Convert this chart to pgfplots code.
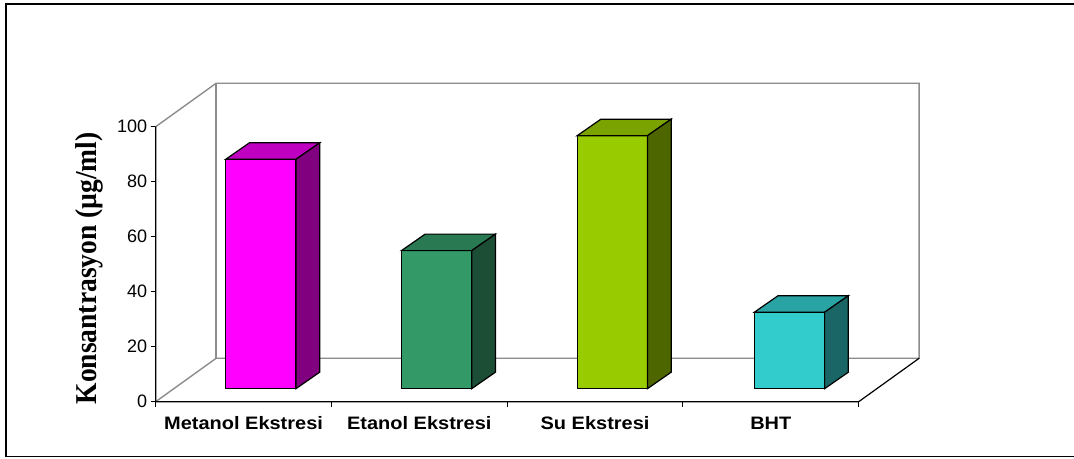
\documentclass[border=0pt]{standalone}
\usepackage{pgfplots}
\pgfplotsset{compat=1.18}
\usepackage{graphicx}
\usepackage{fontspec}
\setmainfont{Liberation Sans}
\newfontfamily\timesfont{Liberation Serif}

\definecolor{mF}{HTML}{FF00FF}\definecolor{mT}{HTML}{C000C0}\definecolor{mS}{HTML}{800080}
\definecolor{eF}{HTML}{339966}\definecolor{eT}{HTML}{297A52}\definecolor{eS}{HTML}{1C4D35}
\definecolor{sF}{HTML}{99CC00}\definecolor{sT}{HTML}{7AA300}\definecolor{sS}{HTML}{4D6600}
\definecolor{bF}{HTML}{33CCCC}\definecolor{bT}{HTML}{29A3A3}\definecolor{bS}{HTML}{1A6666}
\definecolor{wallgray}{HTML}{8C8C8C}

\begin{document}
\begin{tikzpicture}
\begin{axis}[
  at={(155.7pt,56.3pt)}, anchor=south west,
  scale only axis, width=703pt, height=275pt,
  xmin=0, xmax=4, ymin=0, ymax=100,
  clip=false,
  axis line style={draw=none},
  tick pos=left,
  tick align=outside,
  major tick length=5pt,
  minor tick length=5pt,
  every tick/.style={black, line width=1pt},
  xtick={0.5,1.5,2.5,3.5},
  xticklabels={\scalebox{1.11}[1]{\bfseries Metanol Ekstresi}, \scalebox{1.11}[1]{\bfseries Etanol Ekstresi}, \scalebox{1.11}[1]{\bfseries Su Ekstresi}, \scalebox{1.11}[1]{\bfseries BHT}},
  major x tick style={draw=none},
  minor xtick={0,1,2,3,4},
  xticklabel style={font=\fontsize{18}{20}\selectfont, yshift=-6.5pt},
  ytick={0,20,40,60,80,100},
  yticklabel style={font=\fontsize{18}{20}\selectfont},
  /pgf/number format/assume math mode=true,
  ylabel={\scalebox{1}[1.1]{Konsantrasyon (µg/ml)}},
  every axis y label/.style={at={(axis cs:-0.38,48.5)}, rotate=90, anchor=center, font=\timesfont\bfseries\fontsize{27.5}{30}\selectfont},
]
% back wall and floor (grey)
\addplot[wallgray, line width=1.4pt] coordinates {(0,100) (0.344,115.8) (4.344,115.8) (4.344,15.8) (0.344,15.8) (0,0)};
\addplot[wallgray, line width=1.4pt] coordinates {(0.344,15.8) (0.344,115.8)};
% front axes (black)
\addplot[black, line width=1.2pt] coordinates {(0,100) (0,0) (4,0) (4.344,15.8)};

% Metanol Ekstresi: 83.4
\addplot[fill=mF, draw=black, line width=1.2pt] coordinates {(0.398,4.73) (0.798,4.73) (0.798,88.13) (0.398,88.13)} -- cycle;
\addplot[fill=mT, draw=black, line width=1.2pt] coordinates {(0.398,88.13) (0.798,88.13) (0.933,94.13) (0.533,94.13)} -- cycle;
\addplot[fill=mS, draw=black, line width=1.2pt] coordinates {(0.798,4.73) (0.933,10.73) (0.933,94.13) (0.798,88.13)} -- cycle;
% Etanol Ekstresi: 50.2
\addplot[fill=eF, draw=black, line width=1.2pt] coordinates {(1.398,4.73) (1.798,4.73) (1.798,54.93) (1.398,54.93)} -- cycle;
\addplot[fill=eT, draw=black, line width=1.2pt] coordinates {(1.398,54.93) (1.798,54.93) (1.933,60.93) (1.533,60.93)} -- cycle;
\addplot[fill=eS, draw=black, line width=1.2pt] coordinates {(1.798,4.73) (1.933,10.73) (1.933,60.93) (1.798,54.93)} -- cycle;
% Su Ekstresi: 92.0
\addplot[fill=sF, draw=black, line width=1.2pt] coordinates {(2.398,4.73) (2.798,4.73) (2.798,96.73) (2.398,96.73)} -- cycle;
\addplot[fill=sT, draw=black, line width=1.2pt] coordinates {(2.398,96.73) (2.798,96.73) (2.933,102.73) (2.533,102.73)} -- cycle;
\addplot[fill=sS, draw=black, line width=1.2pt] coordinates {(2.798,4.73) (2.933,10.73) (2.933,102.73) (2.798,96.73)} -- cycle;
% BHT: 27.8
\addplot[fill=bF, draw=black, line width=1.2pt] coordinates {(3.406,4.73) (3.806,4.73) (3.806,32.53) (3.406,32.53)} -- cycle;
\addplot[fill=bT, draw=black, line width=1.2pt] coordinates {(3.406,32.53) (3.806,32.53) (3.941,38.53) (3.541,38.53)} -- cycle;
\addplot[fill=bS, draw=black, line width=1.2pt] coordinates {(3.806,4.73) (3.941,10.73) (3.941,38.53) (3.806,32.53)} -- cycle;
\end{axis}
\draw[black, line width=1.3pt] (1090pt,454pt) -- (6pt,454pt) -- (6pt,1.3pt) -- (1090pt,1.3pt);
\pgfresetboundingbox
\path[use as bounding box] (0,0) rectangle (1074pt,458pt);
\end{tikzpicture}
\end{document}
